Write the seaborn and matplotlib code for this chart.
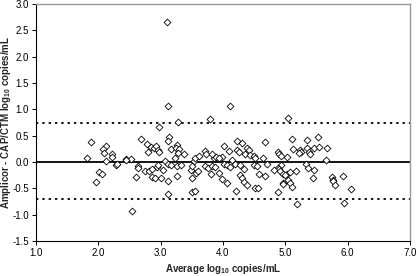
import numpy as np
import pandas as pd
import matplotlib
matplotlib.use("Agg")
import matplotlib.pyplot as plt
import seaborn as sns

# average of the two assays (log10 copies/mL)
avg_log = [
    1.82, 1.89, 2.01, 2.06, 1.97, 2.13, 2.08, 2.09, 2.22, 2.22, 2.12, 2.28,
    2.30, 2.44, 2.53, 2.45, 2.63, 2.64, 2.60, 2.68, 2.97, 2.78, 2.84, 2.89,
    2.92, 2.79, 2.95, 2.97, 2.75, 2.82, 2.86, 2.86, 2.91, 2.94, 2.96, 2.54,
    3.10, 3.11, 3.28, 3.79, 3.14, 3.11, 3.17, 3.26, 3.24, 3.29, 3.28, 3.38,
    3.23, 3.07, 3.12, 3.17, 3.27, 3.33, 3.03, 3.00, 3.27, 3.11, 3.11, 3.49,
    3.51, 3.54, 3.55, 3.62, 3.56, 3.60, 3.51, 3.51, 3.55, 3.71, 3.73, 3.71,
    3.76, 3.80, 3.83, 3.85, 3.82,
    4.12, 4.02, 4.23, 4.30, 4.22, 4.25, 4.10, 4.38, 4.42, 4.36, 4.43, 4.49,
    4.51, 4.67, 4.65, 3.89, 3.98, 3.94, 3.87, 4.02, 4.07, 4.14, 4.12, 4.19,
    4.28, 4.33, 4.27, 4.30, 4.33, 4.38, 4.49, 4.54, 4.57, 4.67, 4.51, 4.56,
    4.21, 3.93, 3.98, 4.07,
    5.05, 5.10, 5.35, 5.53, 5.13, 5.24, 5.25, 5.35, 5.46, 5.54, 5.38, 5.40,
    4.88, 4.90, 4.93, 5.02, 4.70, 5.34, 5.36, 5.46, 5.45, 4.93, 4.89, 4.90,
    4.82, 4.91, 4.97, 5.02, 5.08, 5.17, 5.00, 5.05, 4.97, 5.08, 5.11, 4.88,
    5.18, 5.67, 5.65, 5.75, 5.76, 5.77, 5.80, 5.92, 6.06, 5.94, 5.22, 4.96,
]

# Amplicor minus CAP/CTM (log10 copies/mL)
diff_log = [
    0.07, 0.37, -0.20, -0.23, -0.39, 0.31, 0.24, 0.16, 0.15, 0.10, 0.01, -0.06,
    -0.03, 0.06, 0.05, 0.03, -0.08, -0.11, -0.29, 0.44, 0.66, 0.34, 0.28, 0.27,
    0.30, 0.18, 0.23, 0.18, -0.18, -0.18, -0.13, -0.29, -0.30, -0.09, -0.06, -0.94,
    2.65, 1.06, 0.75, 0.82, 0.48, 0.39, 0.25, 0.32, 0.27, 0.25, 0.16, 0.15,
    0.07, 0.02, -0.03, -0.06, -0.08, -0.06, -0.15, -0.31, -0.27, -0.37, -0.61, -0.15,
    -0.08, 0.02, 0.07, 0.11, -0.21, -0.18, -0.31, -0.58, -0.55, 0.20, 0.15, -0.08,
    -0.11, -0.23, -0.08, 0.07, 0.15,
    1.06, 0.30, 0.40, 0.35, 0.23, 0.18, 0.20, 0.27, 0.23, 0.15, 0.13, 0.12,
    0.07, 0.37, 0.07, 0.10, 0.10, 0.07, -0.09, -0.04, -0.06, 0.04, -0.09, -0.03,
    -0.06, -0.13, -0.25, -0.30, -0.39, -0.44, -0.06, -0.08, -0.23, -0.27, -0.50, -0.50,
    -0.56, -0.21, -0.33, -0.40,
    0.83, 0.43, 0.42, 0.47, 0.24, 0.23, 0.18, 0.27, 0.26, 0.28, 0.18, 0.15,
    0.18, 0.15, 0.12, 0.10, -0.03, -0.03, -0.12, -0.16, -0.31, -0.06, -0.11, -0.14,
    -0.15, -0.18, -0.22, -0.22, -0.20, -0.18, -0.25, -0.34, -0.40, -0.40, -0.48, -0.58,
    -0.80, 0.26, 0.04, -0.29, -0.34, -0.37, -0.44, -0.27, -0.51, -0.78, 0.16, -0.42,
]

mean_diff = 0.0
upper_loa = 0.73
lower_loa = -0.71

x_ticks = [1.0, 2.0, 3.0, 4.0, 5.0, 6.0, 7.0]
y_ticks = [-1.5, -1.0, -0.5, 0.0, 0.5, 1.0, 1.5, 2.0, 2.5, 3.0]

df = pd.DataFrame({"avg": avg_log, "diff": diff_log})

sns.set_style("ticks")
plt.rcParams["font.family"] = ["Liberation Sans", "DejaVu Sans"]
plt.rcParams["mathtext.fontset"] = "custom"
plt.rcParams["mathtext.bf"] = "Liberation Sans:bold"
plt.rcParams["mathtext.rm"] = "Liberation Sans:bold"
plt.rcParams["mathtext.default"] = "bf"

fig = plt.figure(figsize=(4.16, 2.76), dpi=100)
ax = fig.add_axes([0.0865, 0.127, 0.899, 0.859])

ax.axhline(mean_diff, color="black", lw=1.3, zorder=1)
ax.axhline(upper_loa, color="black", lw=1.3, ls=(0, (1.3, 2.2)), zorder=1)
ax.axhline(lower_loa, color="black", lw=1.3, ls=(0, (1.3, 2.2)), zorder=1)

sns.scatterplot(data=df, x="avg", y="diff", marker="D", s=12,
                facecolor="white", edgecolor="black", linewidth=0.6,
                ax=ax, zorder=3)

ax.set_xlim(1.0, 7.0)
ax.set_ylim(-1.5, 3.0)
ax.set_xticks(x_ticks)
ax.set_yticks(y_ticks)
ax.set_xticklabels([f"{v:.1f}" for v in x_ticks])
ax.set_yticklabels([f"{v:.1f}" for v in y_ticks])
ax.tick_params(labelsize=7, length=3, width=0.7, pad=2, colors="black")

ax.set_xlabel(r"Average log$_{10}$ copies/mL", fontsize=7, fontweight="bold", labelpad=3)
ax.set_ylabel(r"Amplicor - CAP/CTM log$_{10}$ copies/mL", fontsize=7,
              fontweight="bold", va="center")
ax.yaxis.set_label_coords(-0.081, 0.5)

for side in ["left", "bottom"]:
    ax.spines[side].set_color("black")
    ax.spines[side].set_linewidth(0.8)
for side in ["top", "right"]:
    ax.spines[side].set_visible(True)
    ax.spines[side].set_color("#999999")
    ax.spines[side].set_linewidth(1.0)

fig.savefig("out.png", dpi=100)
